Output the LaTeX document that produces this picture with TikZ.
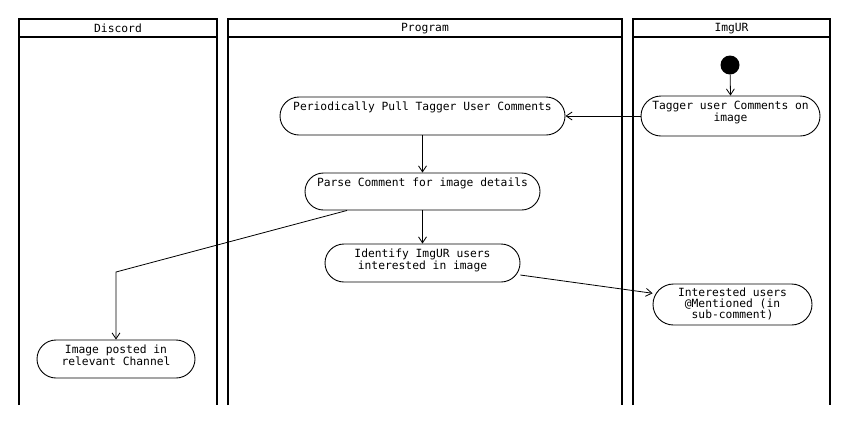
\documentclass[tikz,border=0pt]{standalone}
\usepackage{fontspec}
\newfontfamily\diafont{DejaVu Sans Mono}
\usetikzlibrary{arrows.meta,calc}
\begin{document}
\begin{tikzpicture}[x=1pt,y=-1pt,
  lane/.style={line width=2pt},
  dfont/.style={font=\diafont\fontsize{11.3}{11}\selectfont},
  head/.style={dfont, inner sep=0pt},
  actbox/.style={draw, line width=0.9pt, inner sep=0pt},
  acttext/.style={dfont, anchor=north, align=center, inner sep=3pt, yshift=-2pt},
  flow/.style={line width=0.8pt, -{Straight Barb[length=6pt,width=8pt]}}]
\useasboundingbox (0,0) rectangle (851,424);
% swimlanes
\draw[lane] (19,405) -- (19,19) -- (217,19) -- (217,405);
\draw[lane] (19,37) -- (217,37);
\draw[lane] (228,405) -- (228,19) -- (622,19) -- (622,405);
\draw[lane] (228,37) -- (622,37);
\draw[lane] (633,405) -- (633,19) -- (830,19) -- (830,405);
\draw[lane] (633,37) -- (830,37);
\node[head] (hdiscord) at (118,28.5) {Discord};
\node[head] (hprogram) at (425,28.5) {Program};
\node[head] (himgur) at (731.5,28.5) {ImgUR};
% start
\node[circle, fill, minimum size=19pt, inner sep=0pt] (start) at (730,65) {};
% activities
\node[actbox, minimum width=285pt, minimum height=38pt, rounded corners=19pt,
  label={[acttext]north:Periodically Pull Tagger User Comments}] (pull) at (422.5,116) {};
\node[actbox, minimum width=179pt, minimum height=40pt, rounded corners=20pt,
  label={[acttext]north:Tagger user Comments on\\image}] (tagger) at (730.5,116) {};
\node[actbox, minimum width=235pt, minimum height=37pt, rounded corners=18.5pt,
  label={[acttext]north:Parse Comment for image details}] (parse) at (422.5,191.5) {};
\node[actbox, minimum width=195pt, minimum height=38pt, rounded corners=19pt,
  label={[acttext]north:Identify ImgUR users\\interested in image}] (identify) at (422.5,263) {};
\node[actbox, minimum width=158pt, minimum height=38pt, rounded corners=19pt,
  label={[acttext]north:Image posted in\\relevant Channel}] (image) at (116,359) {};
\node[actbox, minimum width=159pt, minimum height=41pt, rounded corners=20.5pt,
  label={[acttext, yshift=1pt]north:Interested users\\@Mentioned (in\\sub-comment)}] (interested) at (732.5,304.5) {};
% flows
\coordinate (bend) at (116,272);
\draw[flow] (start) -- (tagger.north);
\draw[flow] (tagger.west) -- (pull.east);
\draw[flow] (pull.south) -- (parse.north);
\draw[flow] (parse.south) -- (identify.north);
\draw[flow] ($(parse.south west)!0.18!(parse.south east)$) -- (bend) -- (image.north);
\draw[flow] (identify.-7) -- (interested.172);
\end{tikzpicture}
\end{document}
